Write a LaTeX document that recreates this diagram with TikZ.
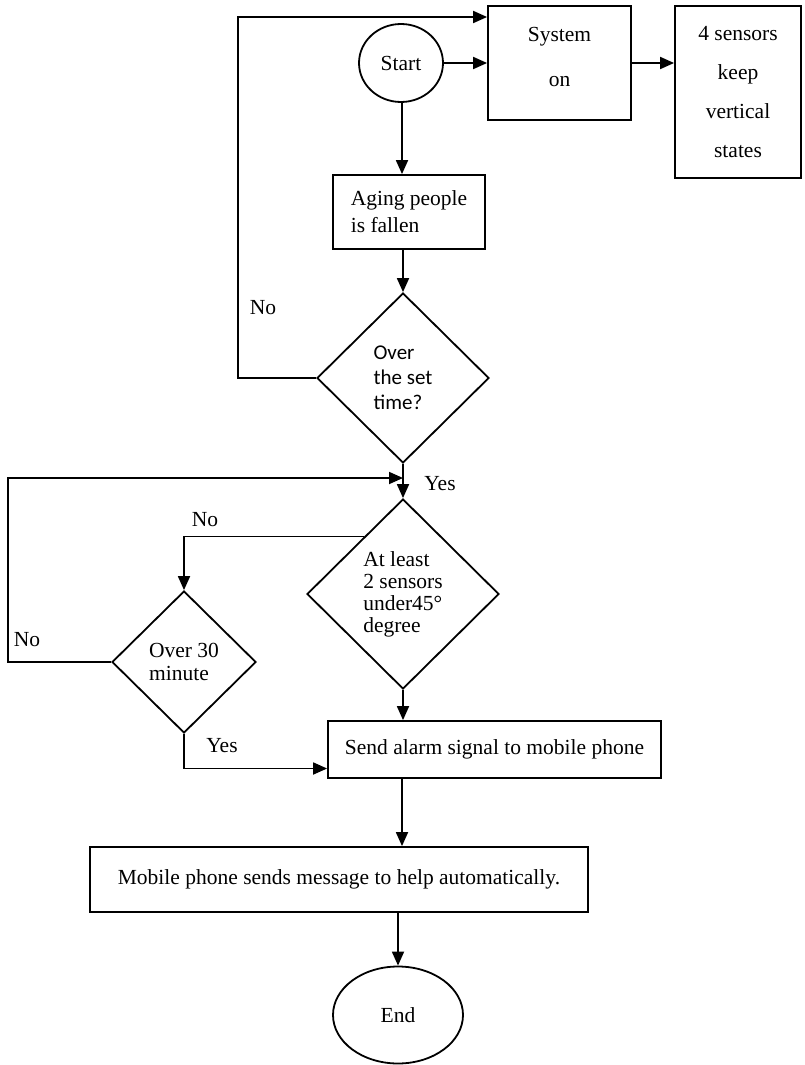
\documentclass[tikz,border=0pt]{standalone}
\usepackage{fontspec}
\setmainfont{Liberation Serif}
\newfontfamily\calib{Carlito}
\usetikzlibrary{shapes.geometric,arrows.meta,calc}

\begin{document}
\begin{tikzpicture}[x=1pt,y=-1pt,line width=1.8pt,
		font=\fontsize{21.5}{27}\selectfont,
		arr/.style={-{Triangle[length=14pt,width=12pt]}},
		box/.style={draw,rectangle,inner sep=0pt},
		oval/.style={draw,ellipse,inner sep=0pt},
		decide/.style={draw,diamond,aspect=1,inner sep=0pt,align=left}]
			\useasboundingbox (0,0) rectangle (804,1065);
			\node[oval,minimum width=84pt,minimum height=78pt] (start) at (401,63) {Start};
			\node[box,minimum width=143pt,minimum height=114pt,align=center,text depth=12pt,font=\fontsize{21.5}{45}\selectfont] (sys) at (559.5,63) {System\\on};
			\node[box,minimum width=126pt,minimum height=172pt,align=center,font=\fontsize{21.5}{39}\selectfont] (four) at (738,92) {4 sensors\\keep\\vertical\\states};
			\node[box,minimum width=152pt,minimum height=74pt,align=left] (aging) at (409,212) {Aging people\\is fallen};
			\node[decide,minimum width=172pt,minimum height=170pt,font=\calib\fontsize{21}{25}\selectfont] (d1) at (403,378) {Over\\the set\\time?};
			\node[decide,minimum width=192pt,minimum height=190pt,font=\fontsize{21.5}{22}\selectfont] (d2) at (403,594) {At least\\2 sensors\\under45°\\degree};
			\node[decide,minimum width=144pt,minimum height=142pt,font=\fontsize{21.5}{23}\selectfont] (d3) at (184,662) {Over 30\\minute};
			\node[box,minimum width=333pt,minimum height=57pt] (send) at (494.5,749.5) {Send alarm signal to mobile phone};
			\node[box,minimum width=498pt,minimum height=65pt] (mobile) at (339,879.5) {Mobile phone sends message to help automatically.};
			\node[oval,minimum width=130pt,minimum height=97pt] (stop) at (398,1015) {End};
			\coordinate (axis) at (402,0);
			\coordinate (top) at (238,17);
			\coordinate (far) at (8,478);
			\coordinate (merge) at (403,478);
			\draw[arr] (start) -- (sys);
			\draw[arr] (sys.east) -- (sys.east -| four.west);
			\draw[arr] (start.south -| axis) -- (aging.north -| axis);
			\draw[arr] (aging.south -| d1.north) -- (d1.north);
			\draw[arr] (d1.west) -| (top) -- (top -| sys.west);
			\draw[arr] (d1.south) -- (d2.north);
			\draw[arr] (d3.west) -| (far) -- (merge);
			\draw[arr] ($(d2.north)!0.4!(d2.west)$) -| (d3.north);
			\draw[arr] (d2.south) -- (d2.south |- send.north);
			\draw[arr] (d3.south) |- ([yshift=-19pt]send.west);
			\draw[arr] (send.south -| axis) -- (mobile.north -| axis);
			\draw[arr] (mobile.south -| stop) -- (stop.north);
			\node (no1) at (263,308) {No};
			\node (yes1) at (440,484) {Yes};
			\node (no2) at (205,520) {No};
			\node (no3) at (27,640) {No};
			\node (yes2) at (222,746) {Yes};
		\end{tikzpicture}
\end{document}
